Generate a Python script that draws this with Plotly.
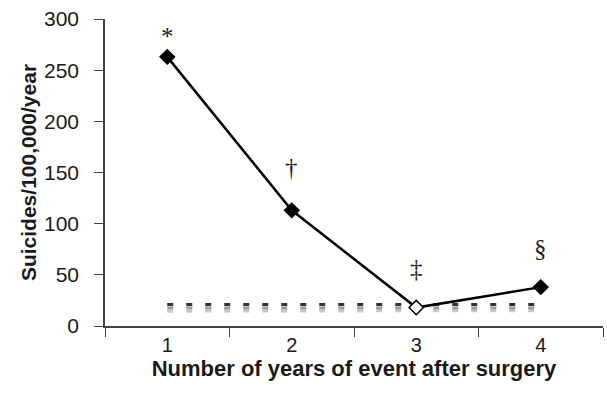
import plotly.graph_objects as go

years = ["1", "2", "3", "4"]
rates = [263, 113, 18, 38]
baseline_dark = [21, 21, 21, 21]
baseline_mid = [17.5, 17.5, 17.5, 17.5]
baseline_light = [14.5, 14.5, 14.5, 15]
marks = ["*", "\u2020", "\u2021", "\u00a7"]
mark_offsets = [20, 43, 39, 39]
yticks = [0, 50, 100, 150, 200, 250, 300]

fig = go.Figure()
for vals, col in [(baseline_light, "#c8c8c8"), (baseline_mid, "#9a9a9a"), (baseline_dark, "#333333")]:
    fig.add_trace(go.Scatter(x=years, y=vals, mode="lines",
                             line=dict(color=col, width=3, dash="6px,13px"),
                             hoverinfo="skip", showlegend=False))

fig.add_trace(go.Scatter(
    x=years, y=rates, mode="lines+markers",
    line=dict(color="black", width=2.5),
    marker=dict(symbol="diamond", size=11,
                color=["black", "black", "white", "black"],
                line=dict(color="black", width=1.5)),
    showlegend=False))

for i, (y, m, off) in enumerate(zip(rates, marks, mark_offsets)):
    fig.add_annotation(x=i, y=y, text=m, showarrow=False, yshift=off,
                       font=dict(family="Liberation Serif, serif", size=25, color="#222"))

fig.update_layout(
    width=607, height=398,
    margin=dict(l=105, r=4, t=19, b=72),
    paper_bgcolor="white", plot_bgcolor="white",
    font=dict(family="Liberation Sans, Arial, sans-serif", size=20, color="#1a1a1a"),
)
fig.update_xaxes(type="category", tickson="boundaries", ticks="outside", ticklen=9,
                 tickcolor="#444", showline=True, linecolor="#444", linewidth=1.5,
                 showgrid=False, range=[-0.5, 3.5],
                 title=dict(text="<b>Number of years of event after surgery</b>", standoff=0,
                            font=dict(size=22)))
fig.update_yaxes(range=[0, 300], tickvals=yticks, ticks="outside",
                 ticklen=9, tickcolor="#444", showline=True, linecolor="#444", linewidth=1.5,
                 showgrid=False, zeroline=False, ticklabelstandoff=11,
                 tickfont=dict(size=21),
                 title=dict(text="<b>Suicides/100,000/year</b>", standoff=2, font=dict(size=21)))

fig.write_html("out.html", config={"displayModeBar": False},
               post_script="document.body.style.margin='0';")
